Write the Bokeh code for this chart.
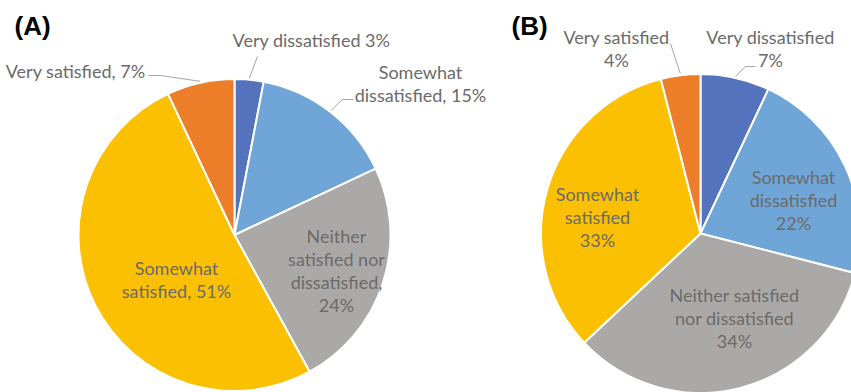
import math

from bokeh.core.properties import value
from bokeh.embed import file_html
from bokeh.models import ColumnDataSource, Range1d
from bokeh.plotting import figure
from bokeh.resources import INLINE

# ---- data -------------------------------------------------------------
categories = [
    "Very dissatisfied",
    "Somewhat dissatisfied",
    "Neither satisfied nor dissatisfied",
    "Somewhat satisfied",
    "Very satisfied",
]
values_a = [3, 15, 24, 51, 7]
values_b = [7, 22, 34, 33, 4]

# label text per slice, one entry per line; {v} is the slice value
labels_a = [
    ["Very dissatisfied {v}%"],
    ["Somewhat", "dissatisfied, {v}%"],
    ["Neither", "satisfied nor", "dissatisfied,", "{v}%"],
    ["Somewhat", "satisfied, {v}%"],
    ["Very satisfied, {v}%"],
]
labels_b = [
    ["Very dissatisfied", "{v}%"],
    ["Somewhat", "dissatisfied", "{v}%"],
    ["Neither satisfied", "nor dissatisfied", "{v}%"],
    ["Somewhat", "satisfied", "{v}%"],
    ["Very satisfied", "{v}%"],
]

# ---- styling / layout (pixel units, measured from top-left) ----------
W, H = 851, 392
slice_colors = ["#5572BD", "#6FA6D7", "#ABA9A7", "#FBC002", "#EC7D29"]
label_color = "#6B6B6B"
leader_color = "#A6A6A6"
label_font = "Lato"
label_size = "18px"
line_step = 23.3
text_shift = -7  # baseline correction for the label font

layout_a = dict(
    cx=234, cy=234.5, r=156, title="(A)", title_x=14,
    anchors=[(311, 46, "center"), (420, 78, "center"), (336, 242, "center"),
             (176, 274, "center"), (145, 77, "right")],
    leaders={0: [(257, 56)], 1: [(342, 99), (353, 99)], 4: [(160, 75), (148, 75)]},
)
layout_b = dict(
    cx=700, cy=233, r=159.5, title="(B)", title_x=511,
    anchors=[(770, 43, "center"), (793, 183, "center"), (734, 301, "center"),
             (597, 200, "center"), (616, 43, "center")],
    leaders={0: [(745, 66), (755, 66)], 4: [(670, 43)]},
)

p = figure(
    width=W, height=H,
    x_range=Range1d(0, W), y_range=Range1d(0, H),
    x_axis_type=None, y_axis_type=None,
    output_backend="svg", toolbar_location=None,
    min_border=0, min_border_left=0, min_border_right=0,
    min_border_top=0, min_border_bottom=0,
)
p.grid.visible = False
p.outline_line_color = None
p.background_fill_color = "white"
p.border_fill_color = "white"


def fy(y_px):
    return H - y_px


def draw_pie(values, labels, lay):
    cx, cy, r = lay["cx"], fy(lay["cy"]), lay["r"]
    total = float(sum(values))
    cum = [0.0]
    for v in values:
        cum.append(cum[-1] + v / total)
    starts = [math.pi / 2 - 2 * math.pi * c for c in cum[:-1]]
    ends = [math.pi / 2 - 2 * math.pi * c for c in cum[1:]]
    src = ColumnDataSource(dict(
        x=[cx] * len(values), y=[cy] * len(values),
        start=starts, end=ends, color=slice_colors, cat=categories, val=values,
    ))
    p.wedge(x="x", y="y", radius=r, start_angle="start", end_angle="end",
            direction="clock", fill_color="color", line_color="white",
            line_width=2, source=src)

    # leader lines from the slice's outer mid-point to the label
    for i, pts in lay["leaders"].items():
        mid = 2 * math.pi * (cum[i] + cum[i + 1]) / 2
        ex = cx + (r + 1.5) * math.sin(mid)
        ey = cy + (r + 1.5) * math.cos(mid)
        xs = [ex] + [q[0] for q in pts]
        ys = [ey] + [fy(q[1]) for q in pts]
        p.line(xs, ys, line_color=leader_color, line_width=1)

    # slice labels
    for i, lines in enumerate(labels):
        ax, ay, align = lay["anchors"][i]
        txt = [s.format(v=values[i]) for s in lines]
        p.text(
            x=[ax] * len(txt),
            y=[fy(ay + text_shift + k * line_step) for k in range(len(txt))],
            text=txt, text_align=align, text_baseline="alphabetic",
            text_font=value(label_font), text_font_size=label_size,
            text_color=label_color,
        )

    # panel title
    p.text(x=[lay["title_x"]], y=[fy(32 + text_shift)], text=[lay["title"]],
           text_align="left", text_baseline="alphabetic",
           text_font=value("Liberation Sans"), text_font_size="26px",
           text_font_style="bold", text_color="black")


draw_pie(values_a, labels_a, layout_a)
draw_pie(values_b, labels_b, layout_b)

open("out.html", "w").write(file_html(p, INLINE))
